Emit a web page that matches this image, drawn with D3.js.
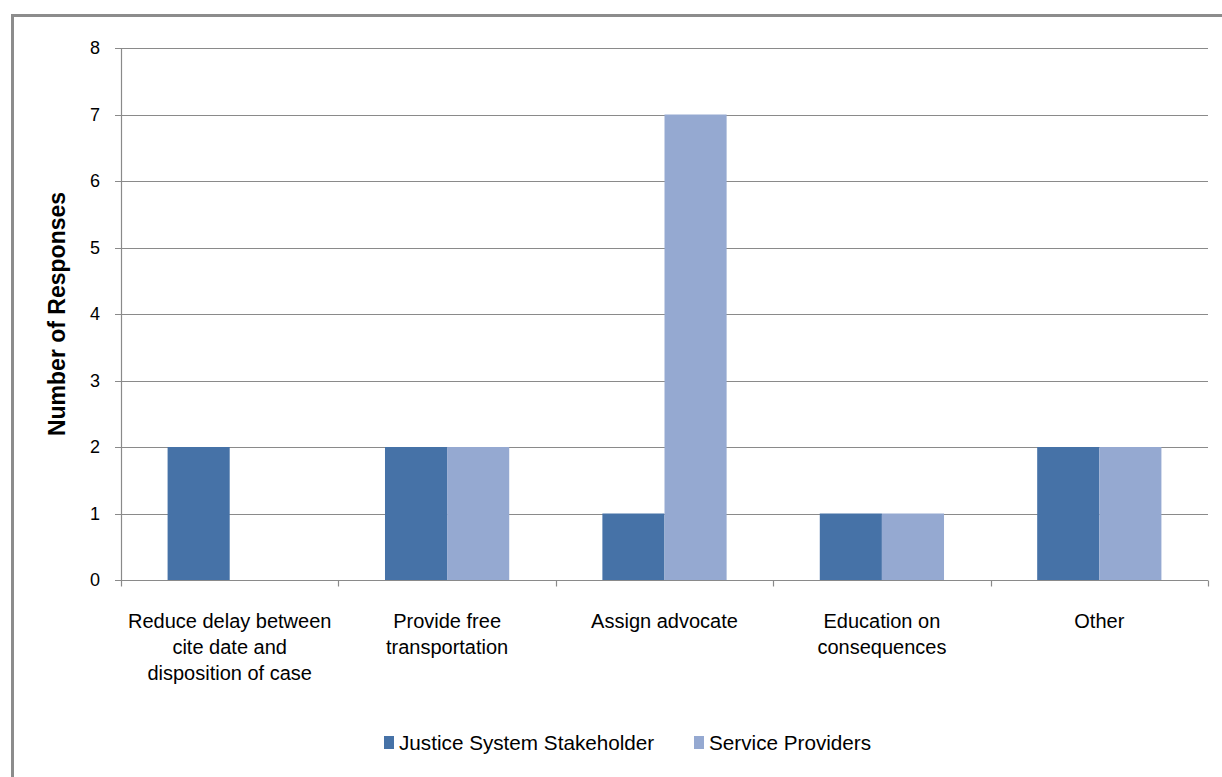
<!DOCTYPE html>
<html>
<head>
<meta charset="utf-8">
<script src="https://cdn.jsdelivr.net/npm/d3@7"></script>
<style>
  html, body { margin: 0; padding: 0; background: #fff; }
  svg { display: block; font-family: "Liberation Sans", Arial, sans-serif; }
</style>
</head>
<body>
<svg id="chart" width="1222" height="777"></svg>
<script>
// Survey answers: suggested ways to improve appearance rates
const categories = [
  ["Reduce delay between", "cite date and", "disposition of case"],
  ["Provide free", "transportation"],
  ["Assign advocate"],
  ["Education on", "consequences"],
  ["Other"]
];
const seriesNames = ["Justice System Stakeholder", "Service Providers"];
const justiceValues = [2, 2, 1, 1, 2];
const providerValues = [0, 2, 7, 1, 2];
const yTicks = [0, 1, 2, 3, 4, 5, 6, 7, 8];
const colors = ["#4672a7", "#95a9d1"];

const svg = d3.select("#chart");
const margin = { left: 121, right: 14, top: 48, bottom: 197 };
const W = 1222, H = 777;

// outer frame
svg.append("path")
  .attr("d", `M12.5,${H} L12.5,15.5 L${W},15.5`)
  .attr("fill", "none").attr("stroke", "#8c8c8c").attr("stroke-width", 3);

const x = d3.scaleBand()
  .domain(d3.range(categories.length))
  .range([margin.left, W - margin.right]);
const inner = d3.scaleBand()
  .domain([0, 1])
  .range([0, x.bandwidth()])
  .paddingOuter(0.75);
const y = d3.scaleLinear().domain([0, 8]).range([H - margin.bottom, margin.top]);

// horizontal gridlines with left tick marks
svg.append("g").selectAll("line").data(yTicks).join("line")
  .attr("x1", margin.left - 6).attr("x2", W - margin.right)
  .attr("y1", d => Math.round(y(d)) + 0.5).attr("y2", d => Math.round(y(d)) + 0.5)
  .attr("stroke", "#8a8a8a").attr("stroke-width", 1.2);

// y tick labels
svg.append("g").selectAll("text").data(yTicks).join("text")
  .attr("x", margin.left - 21).attr("y", d => y(d) + 6)
  .attr("text-anchor", "end").attr("font-size", 18).attr("fill", "#000")
  .text(d => d);

// bars
const rows = categories.map((c, i) => [justiceValues[i], providerValues[i]]);
const groups = svg.append("g").selectAll("g").data(rows).join("g")
  .attr("transform", (d, i) => `translate(${x(i)},0)`);
groups.selectAll("rect").data(d => d.map((v, s) => ({ v, s }))).join("rect")
  .attr("x", d => inner(d.s))
  .attr("width", inner.step())
  .attr("y", d => y(d.v))
  .attr("height", d => y(0) - y(d.v))
  .attr("fill", d => colors[d.s]);

// y axis line
svg.append("line")
  .attr("x1", margin.left + 0.5).attr("x2", margin.left + 0.5)
  .attr("y1", y(8)).attr("y2", y(0))
  .attr("stroke", "#8a8a8a").attr("stroke-width", 1.2);

// x axis line and category tick marks
const xBase = Math.round(y(0)) + 0.5;
svg.append("line")
  .attr("x1", margin.left).attr("x2", W - margin.right)
  .attr("y1", xBase).attr("y2", xBase)
  .attr("stroke", "#8a8a8a").attr("stroke-width", 1.2);
svg.append("g").selectAll("line").data(d3.range(categories.length + 1)).join("line")
  .attr("x1", i => Math.round(margin.left + i * x.step()) + 0.5)
  .attr("x2", i => Math.round(margin.left + i * x.step()) + 0.5)
  .attr("y1", xBase).attr("y2", xBase + 6)
  .attr("stroke", "#8a8a8a").attr("stroke-width", 1.2);

// category labels
svg.append("g").selectAll("text").data(categories).join("text")
  .attr("x", (d, i) => x(i) + x.bandwidth() / 2)
  .attr("y", 628)
  .attr("text-anchor", "middle").attr("font-size", 20).attr("fill", "#000")
  .selectAll("tspan").data(d => d).join("tspan")
  .attr("x", function () { return d3.select(this.parentNode).attr("x"); })
  .attr("dy", (d, j) => j === 0 ? 0 : 26)
  .text(d => d);

// y axis title
svg.append("text")
  .attr("transform", `translate(65,${(y(0) + y(8)) / 2}) rotate(-90)`)
  .attr("text-anchor", "middle").attr("font-size", 23).attr("font-weight", "bold")
  .text("Number of Responses");

// legend
const legend = [{ name: seriesNames[0], x: 384 }, { name: seriesNames[1], x: 694 }];
const lg = svg.append("g").selectAll("g").data(legend).join("g")
  .attr("transform", d => `translate(${d.x},736)`);
lg.append("rect").attr("width", 10).attr("height", 13).attr("fill", (d, i) => colors[i]);
lg.append("text").attr("x", 15).attr("y", 14).attr("font-size", 20.7).text(d => d.name);
</script>
</body>
</html>
